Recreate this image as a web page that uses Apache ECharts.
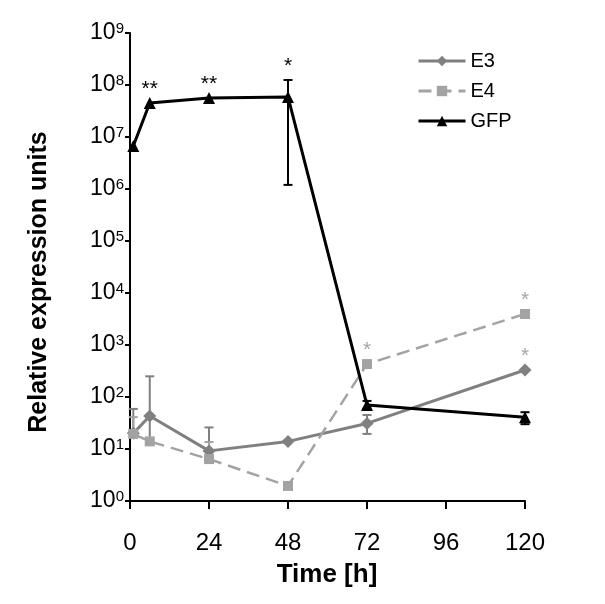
<!DOCTYPE html>
<html>
<head>
<meta charset="utf-8">
<script src="https://cdn.jsdelivr.net/npm/echarts@6/dist/echarts.min.js"></script>
<style>
html,body{margin:0;padding:0;background:#fff;}
#chart{width:605px;height:604px;}
</style>
</head>
<body>
<div id="chart"></div>
<script>
// ---- data ----
const times = [1, 6, 24, 48, 72, 120];
const xTicks = [0, 24, 48, 72, 96, 120];
const yExponents = [0, 1, 2, 3, 4, 5, 6, 7, 8, 9];

const e3Values  = [20, 43, 9.2, 14, 31, 330];
const e4Values  = [19.5, 14, 6.4, 1.95, 430, 3950];
const gfpValues = [6.7e6, 4.5e7, 5.6e7, 5.9e7, 70, 41];

// error bars: [low, high] (null = none)
const e3Err  = [[20, 59], [12, 250], [9.2, 26], null, [19.5, 45], null];
const e4Err  = [[19.5, 41], null, [6.4, 13.6], null, null, null];
const gfpErr = [null, null, null, [1.2e6, 1.25e8], [60, 84], [30, 51]];

// significance marks
const e3Stars  = ['', '', '', '', '', '*'];
const e4Stars  = ['', '', '', '', '*', '*'];
const gfpStars = ['', '**', '**', '*', '', ''];

const seriesNames = ['E3', 'E4', 'GFP'];
const colors = {E3: '#808080', E4: '#a3a3a3', GFP: '#000000'};
const starColors = {E3: '#a6a6a6', E4: '#a6a6a6', GFP: '#000000'};

const FONT = 'Liberation Sans, Arial, sans-serif';

function pairs(vals) { return times.map((t, i) => [t, vals[i]]); }
function errData(errs) {
  const out = [];
  errs.forEach((e, i) => { if (e) out.push([times[i], e[0], e[1]]); });
  return out;
}
function starData(vals, errs, stars) {
  const out = [];
  stars.forEach((s, i) => {
    if (s) {
      const anchor = errs[i] ? Math.max(errs[i][1], vals[i]) : vals[i];
      out.push([times[i], anchor, s]);
    }
  });
  return out;
}

function errSeries(name, errs) {
  return {
    type: 'custom', name: name + ' err', silent: true, z: 1,
    data: errData(errs),
    renderItem: function (params, api) {
      const x = api.value(0);
      const lo = api.coord([x, api.value(1)]);
      const hi = api.coord([x, api.value(2)]);
      const c = colors[name];
      const w = 4.5;
      const st = {stroke: c, lineWidth: 2};
      return {
        type: 'group',
        children: [
          {type: 'line', shape: {x1: hi[0], y1: hi[1], x2: lo[0], y2: lo[1]}, style: st},
          {type: 'line', shape: {x1: hi[0] - w, y1: hi[1], x2: hi[0] + w, y2: hi[1]}, style: st},
          {type: 'line', shape: {x1: lo[0] - w, y1: lo[1], x2: lo[0] + w, y2: lo[1]}, style: st}
        ]
      };
    }
  };
}
function starSeries(name, vals, errs, stars) {
  return {
    type: 'custom', name: name + ' sig', silent: true, z: 5,
    data: starData(vals, errs, stars),
    renderItem: function (params, api) {
      const p = api.coord([api.value(0), api.value(1)]);
      return {
        type: 'text',
        style: {
          x: p[0], y: p[1] - 3,
          text: stars.filter(s => s)[params.dataIndex],
          fill: starColors[name],
          font: '21px ' + FONT,
          align: 'center', verticalAlign: 'bottom'
        }
      };
    }
  };
}

const chart = echarts.init(document.getElementById('chart'));
const option = {
  animation: false,
  backgroundColor: '#ffffff',
  grid: {left: 130, right: 80, top: 33, bottom: 103},
  xAxis: {
    type: 'value', min: 0, max: 120, interval: 24,
    axisLine: {lineStyle: {color: '#000', width: 2}},
    axisTick: {show: true, length: 8, lineStyle: {color: '#000', width: 2}},
    axisLabel: {
      fontSize: 24, color: '#000', fontFamily: FONT, margin: 30,
      formatter: v => xTicks.includes(v) ? String(v) : ''
    },
    splitLine: {show: false}
  },
  yAxis: {
    type: 'log', logBase: 10, min: 1, max: 1e9, splitNumber: 9,
    axisLine: {show: true, lineStyle: {color: '#000', width: 2}},
    axisTick: {show: true, length: 5, lineStyle: {color: '#000', width: 2}},
    axisLabel: {
      margin: 6, color: '#000',
      formatter: function (v) {
        const e = Math.round(Math.log10(v));
        if (!yExponents.includes(e)) return '';
        return '{b|10}{s|' + e + '}';
      },
      rich: {
        b: {fontSize: 23, fontFamily: FONT, color: '#000', verticalAlign: 'bottom'},
        s: {fontSize: 15, fontFamily: FONT, color: '#000', verticalAlign: 'top'}
      }
    },
    splitLine: {show: false}
  },
  legend: {
    data: seriesNames,
    orient: 'vertical', left: 412, top: 46,
    itemWidth: 47, itemHeight: 13, itemGap: 10,
    lineStyle: {width: 3},
    textStyle: {fontSize: 20, fontFamily: FONT, color: '#000', padding: [0, 0, 0, 0]}
  },
  graphic: [
    {type: 'text', x: 39, y: 282, rotation: Math.PI / 2,
     style: {text: 'Relative expression units', font: 'bold 25px ' + FONT, fill: '#000', align: 'center', verticalAlign: 'middle'}},
    {type: 'text', x: 327, y: 575,
     style: {text: 'Time [h]', font: 'bold 26px ' + FONT, fill: '#000', align: 'center', verticalAlign: 'middle'}}
  ],
  series: [
    errSeries('E3', e3Err),
    errSeries('E4', e4Err),
    errSeries('GFP', gfpErr),
    {
      name: 'E3', type: 'line', data: pairs(e3Values), z: 2,
      symbol: 'diamond', symbolSize: 13, showAllSymbol: true,
      itemStyle: {color: colors.E3}, lineStyle: {color: colors.E3, width: 3}
    },
    {
      name: 'E4', type: 'line', data: pairs(e4Values), z: 3,
      symbol: 'rect', symbolSize: 10, showAllSymbol: true,
      itemStyle: {color: colors.E4}, lineStyle: {color: colors.E4, width: 2.5, type: [13, 7]}
    },
    {
      name: 'GFP', type: 'line', data: pairs(gfpValues), z: 4,
      symbol: 'triangle', symbolSize: 12, showAllSymbol: true,
      itemStyle: {color: colors.GFP}, lineStyle: {color: colors.GFP, width: 3}
    },
    starSeries('E3', e3Values, e3Err, e3Stars),
    starSeries('E4', e4Values, e4Err, e4Stars),
    starSeries('GFP', gfpValues, gfpErr, gfpStars)
  ]
};
chart.setOption(option);
</script>
</body>
</html>
